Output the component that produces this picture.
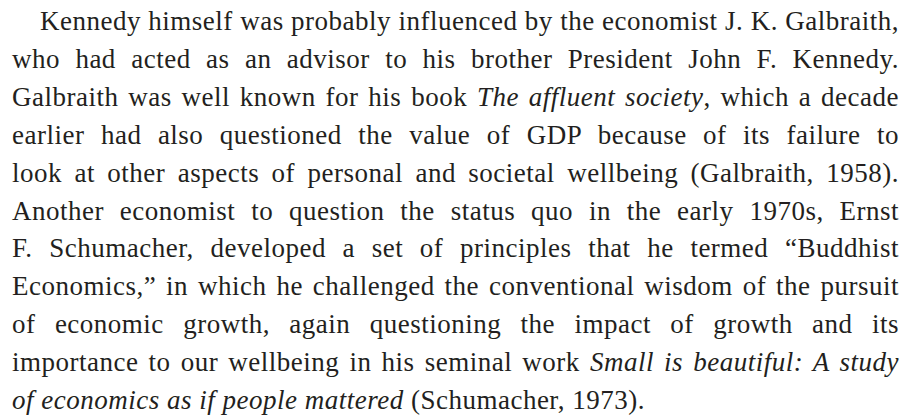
import React from 'react'

// each line of the paragraph, split into runs; italic runs are book titles
type Run = { text: string; italic?: boolean }

const line1: Run[] = [{ text: 'Kennedy himself was probably influenced by the economist J. K. Galbraith,' }]
const line2: Run[] = [{ text: 'who had acted as an advisor to his brother President John F. Kennedy.' }]
const line3: Run[] = [
  { text: 'Galbraith was well known for his book ' },
  { text: 'The affluent society', italic: true },
  { text: ', which a decade' },
]
const line4: Run[] = [{ text: 'earlier had also questioned the value of GDP because of its failure to' }]
const line5: Run[] = [{ text: 'look at other aspects of personal and societal wellbeing (Galbraith, 1958).' }]
const line6: Run[] = [{ text: 'Another economist to question the status quo in the early 1970s, Ernst' }]
const line7: Run[] = [{ text: 'F. Schumacher, developed a set of principles that he termed \u201cBuddhist' }]
const line8: Run[] = [{ text: 'Economics,\u201d in which he challenged the conventional wisdom of the pursuit' }]
const line9: Run[] = [{ text: 'of economic growth, again questioning the impact of growth and its' }]
const line10: Run[] = [
  { text: 'importance to our wellbeing in his seminal work ' },
  { text: 'Small is beautiful: A study', italic: true },
]
const line11: Run[] = [
  { text: 'of economics as if people mattered', italic: true },
  { text: ' (Schumacher, 1973).' },
]

const lines: Run[][] = [line1, line2, line3, line4, line5, line6, line7, line8, line9, line10, line11]

export default function App() {
  return (
    <div
      style={{
        position: 'absolute',
        left: 12,
        top: 3,
        width: 887,
        fontFamily: '"Liberation Serif", serif',
        fontSize: 27,
        letterSpacing: 0.5,
        lineHeight: '37.9px',
        color: '#231f20',
      }}
    >
      {lines.map((runs, i) => {
        const last = i === lines.length - 1
        return (
          <div
            key={i}
            style={{
              whiteSpace: 'nowrap',
              textAlign: last ? 'left' : 'justify',
              textAlignLast: last ? 'left' : 'justify',
              textIndent: i === 0 ? 28 : 0,
            }}
          >
            {runs.map((r, j) => (
              <span key={j} style={{ fontStyle: r.italic ? 'italic' : 'normal' }}>
                {r.text}
              </span>
            ))}
          </div>
        )
      })}
    </div>
  )
}
